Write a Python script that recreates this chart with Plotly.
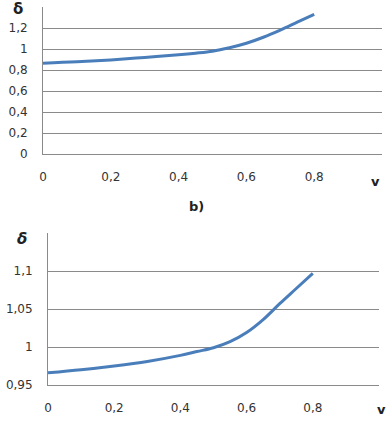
import plotly.graph_objects as go

# Top chart data
v_top = [0, 0.1, 0.2, 0.3, 0.4, 0.45, 0.5, 0.55, 0.6, 0.65, 0.7, 0.75, 0.8]
d_top = [0.865, 0.878, 0.896, 0.92, 0.945, 0.96, 0.979, 1.012, 1.055, 1.112, 1.18, 1.255, 1.33]
# Bottom chart data
v_bot = [0, 0.1, 0.2, 0.3, 0.4, 0.45, 0.5, 0.55, 0.6, 0.65, 0.7, 0.75, 0.8]
d_bot = [0.966, 0.970, 0.975, 0.981, 0.989, 0.994, 0.999, 1.007, 1.019, 1.036, 1.057, 1.077, 1.097]

x_ticks = [0, 0.2, 0.4, 0.6, 0.8]
x_ticktext = ["0", "0,2", "0,4", "0,6", "0,8"]
y_top_ticks = [0, 0.2, 0.4, 0.6, 0.8, 1.0, 1.2]
y_top_text = ["0", "0,2", "0,4", "0,6", "0,8", "1", "1,2"]
y_bot_ticks = [0.95, 1.0, 1.05, 1.1]
y_bot_text = ["0,95", "1", "1,05", "1,1"]

W, H = 391, 422
LINE = "#4a7ebb"
GRID = "#8a8a8a"
TXT = "#333333"
FONT = "DejaVu Sans"

def px_x(p):
    return p / W

def px_y(p):
    return 1 - p / H

fig = go.Figure()
fig.add_trace(go.Scatter(x=v_top, y=d_top, mode="lines",
                         line=dict(color=LINE, width=3, shape="spline", smoothing=1.0),
                         xaxis="x", yaxis="y", showlegend=False))
fig.add_trace(go.Scatter(x=v_bot, y=d_bot, mode="lines",
                         line=dict(color=LINE, width=3, shape="spline", smoothing=1.0),
                         xaxis="x2", yaxis="y2", showlegend=False))

xcommon = dict(range=[0, 1.0], showgrid=False, zeroline=False, showline=True, linecolor=GRID, linewidth=1,
               ticks="outside", ticklen=12, tickcolor="rgba(0,0,0,0)", tickvals=x_ticks, ticktext=x_ticktext,
               tickfont=dict(family=FONT, size=12, color=TXT), fixedrange=True, automargin=False)
ycommon = dict(showgrid=True, gridcolor=GRID, gridwidth=1, zeroline=False, showline=True, linecolor=GRID,
               linewidth=1, ticks="outside", ticklen=12, tickcolor="rgba(0,0,0,0)",
               tickfont=dict(family=FONT, size=12, color=TXT), fixedrange=True, automargin=False)

fig.update_layout(
    width=W, height=H, margin=dict(l=0, r=0, t=0, b=0),
    paper_bgcolor="white", plot_bgcolor="white",
    xaxis=dict(domain=[px_x(43), px_x(382)], anchor="y", **xcommon),
    yaxis=dict(domain=[px_y(154), px_y(7)], anchor="x", range=[0, 1.4],
               tickvals=y_top_ticks + [1.4], ticktext=y_top_text + [""], **ycommon),
    xaxis2=dict(domain=[px_x(48), px_x(379)], anchor="y2", **xcommon),
    yaxis2=dict(domain=[px_y(385), px_y(233)], anchor="x2", range=[0.95, 1.15],
                tickvals=y_bot_ticks + [1.15], ticktext=y_bot_text + [""], **ycommon),
)

ann = [
    dict(text="<b>δ</b>", x=px_x(18), y=px_y(9), size=15),
    dict(text="<b>v</b>", x=px_x(375), y=px_y(181), size=13),
    dict(text="<b>b)</b>", x=px_x(196), y=px_y(206), size=13),
    dict(text="<b><i>δ</i></b>", x=px_x(22), y=px_y(239), size=15),
    dict(text="<b>v</b>", x=px_x(381), y=px_y(409), size=13),
]
for a in ann:
    fig.add_annotation(text=a["text"], x=a["x"], y=a["y"], xref="paper", yref="paper",
                       showarrow=False, xanchor="center", yanchor="middle",
                       font=dict(family=FONT, size=a["size"], color="#222222"))

fig.write_html("out.html", config={"displayModeBar": False},
               post_script="document.body.style.margin='0';document.body.style.overflow='hidden';")
